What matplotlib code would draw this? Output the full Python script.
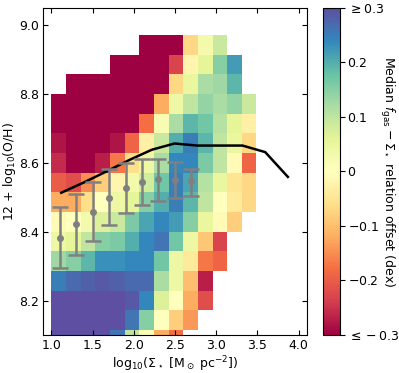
import numpy as np
import matplotlib
matplotlib.use("Agg")
import matplotlib.pyplot as plt

# --- data -------------------------------------------------------------
x_edges = 1.0 + 0.1778 * np.arange(15)           # log10 Sigma_* bin edges
y_edges = 8.8 + (0.4 / 7) * np.arange(-13, 4)    # 12+log(O/H) bin edges

N = np.nan
# median offset per cell, rows listed from top (highest O/H) to bottom
offset_rows_top_down = [
    [N, N, N, N, N, N, -.30, -.30, -.30, -.07, .03, .09, N, N],
    [N, N, N, N, -.30, -.30, -.30, -.30, -.23, -.02, .06, .15, .22, N],
    [N, -.30, -.30, -.30, -.30, -.30, -.30, -.30, -.07, .05, .12, .13, .19, N],
    [-.30, -.30, -.30, -.30, -.30, -.30, -.30, -.12, .04, .10, .14, .12, .14, .09],
    [-.30, -.30, -.30, -.30, -.30, -.30, -.18, .02, .12, .19, .17, .11, .06, -.03],
    [-.28, -.30, -.30, -.30, -.28, -.19, -.03, .09, .20, .25, .19, .10, .05, -.07],
    [-.26, -.30, -.30, -.27, -.17, -.06, .04, .12, .24, .24, .16, .10, -.01, -.19],
    [-.20, -.22, -.15, -.08, -.02, .03, .08, .17, .25, .21, .11, .05, -.05, -.07],
    [-.12, -.12, -.06, .00, .04, .06, .15, .20, .25, .19, .10, .00, -.04, -.07],
    [-.01, .00, .03, .07, .09, .16, .21, .24, .22, .15, .05, -.01, -.08, N],
    [.04, .06, .10, .15, .16, .20, .24, .26, .17, .04, -.09, -.23, N, N],
    [.13, .15, .19, .23, .23, .24, .24, .17, .04, -.04, -.17, -.19, N, N],
    [.25, .27, .28, .29, .28, .27, .27, .12, .04, -.10, -.27, N, N, N],
    [.30, .30, .30, .30, .30, .29, .24, .07, .00, -.12, -.22, N, N, N],
    [.30, .30, .30, .30, .30, .26, .15, .00, -.08, -.14, N, N, N, N],
    [.30, .30, .30, .30, .26, .10, .01, -.12, -.18, N, N, N, N, N],
]

# running median relation (black line)
line_x = [1.12, 1.395, 1.67, 1.945, 2.22, 2.495, 2.77, 3.045, 3.32, 3.595, 3.87]
line_y = [8.513, 8.543, 8.575, 8.608, 8.638, 8.656, 8.650, 8.650, 8.650, 8.631, 8.559]

# grey points with asymmetric error bars
pt_x = [1.1, 1.3, 1.5, 1.7, 1.9, 2.1, 2.3, 2.5, 2.7]
pt_y = [8.383, 8.421, 8.458, 8.499, 8.528, 8.544, 8.552, 8.551, 8.547]
pt_lo = [8.293, 8.333, 8.374, 8.420, 8.453, 8.477, 8.489, 8.499, 8.503]
pt_hi = [8.472, 8.508, 8.544, 8.581, 8.600, 8.610, 8.612, 8.602, 8.583]

cbar_ticks = [-0.3, -0.2, -0.1, 0.0, 0.1, 0.2, 0.3]
cbar_ticklabels = [r"$\leq -0.3$", "$-0.2$", "$-0.1$", "0", "0.1", "0.2", r"$\geq 0.3$"]

# --- plot -------------------------------------------------------------
Z = np.array(offset_rows_top_down[::-1], dtype=float)
Zm = np.ma.masked_invalid(Z)

fs = 9
fig = plt.figure(figsize=(3.99, 3.73), dpi=100)
ax = fig.add_axes([0.108, 0.102, 0.661, 0.877])
cax = fig.add_axes([0.810, 0.102, 0.042, 0.877])

mesh = ax.pcolormesh(x_edges, y_edges, Zm, cmap="Spectral", vmin=-0.3, vmax=0.3,
                     edgecolors="face", linewidth=0.0, antialiased=False)

ax.plot(line_x, line_y, color="black", lw=1.8, zorder=3)

pt_y_arr = np.array(pt_y)
yerr = [pt_y_arr - np.array(pt_lo), np.array(pt_hi) - pt_y_arr]
ax.errorbar(pt_x, pt_y, yerr=yerr, fmt="o", color="grey", ms=4, elinewidth=1.8,
            capsize=5.5, capthick=1.8, zorder=4)

ax.set_xlim(0.9, 4.1)
ax.set_ylim(8.1, 9.05)
ax.set_xticks([1.0, 1.5, 2.0, 2.5, 3.0, 3.5, 4.0])
ax.set_yticks([8.2, 8.4, 8.6, 8.8, 9.0])
ax.tick_params(direction="in", top=True, right=True, labelsize=fs, pad=3)
ax.set_xlabel(r"log$_{10}$($\Sigma_\star$ [M$_\odot$ pc$^{-2}$])", fontsize=fs, labelpad=2)
ax.set_ylabel(r"12 + log$_{10}$(O/H)", fontsize=fs, va="center")
ax.yaxis.set_label_coords(-0.128, 0.5)

cb = fig.colorbar(mesh, cax=cax, ticks=cbar_ticks)
cb.ax.set_yticklabels(cbar_ticklabels)
cb.ax.tick_params(labelsize=fs, pad=2)
cb.set_label(r"Median $f_{\rm gas} - \Sigma_\star$ relation offset (dex)", rotation=270,
             fontsize=fs, va="center")
cb.ax.yaxis.set_label_coords(3.78, 0.5)

fig.savefig("out.png", dpi=100)
